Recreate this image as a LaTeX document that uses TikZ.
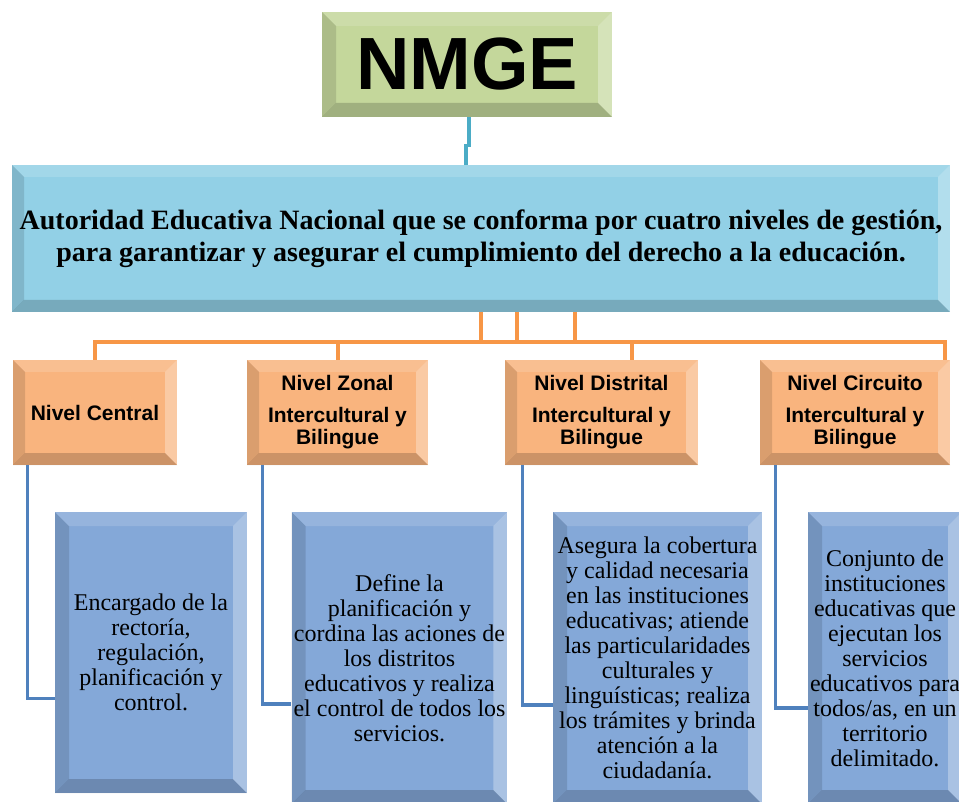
\documentclass[tikz,border=0pt]{standalone}
\usepackage{fontspec}
\setmainfont{Liberation Serif}
\setsansfont{Liberation Sans}
\usetikzlibrary{calc}

\definecolor{nmgegreen}{RGB}{196,215,155}
\definecolor{autoblue}{RGB}{146,208,230}
\definecolor{nivelorange}{RGB}{249,180,126}
\definecolor{descblue}{RGB}{132,168,216}
\definecolor{linkteal}{RGB}{75,172,198}
\definecolor{linkorange}{RGB}{247,150,70}
\definecolor{linkblue}{RGB}{79,129,189}

% bevel faces inside a node
\newcommand\bevelfaces[1]{%
  \coordinate (bsw) at (path picture bounding box.south west);
  \coordinate (bne) at (path picture bounding box.north east);
  \coordinate (bnw) at (path picture bounding box.north west);
  \coordinate (bse) at (path picture bounding box.south east);
  \coordinate (isw) at ([shift={(#1,#1)}]bsw);
  \coordinate (ine) at ([shift={(-#1,-#1)}]bne);
  \coordinate (inw) at ([shift={(#1,-#1)}]bnw);
  \coordinate (ise) at ([shift={(-#1,#1)}]bse);
  \fill[black,opacity=.12] (bnw) -- (inw) -- (isw) -- (bsw) -- cycle;
  \fill[black,opacity=.18] (bsw) -- (isw) -- (ise) -- (bse) -- cycle;
  \fill[white,opacity=.30] (bse) -- (ise) -- (ine) -- (bne) -- cycle;
  \fill[white,opacity=.15] (bne) -- (ine) -- (inw) -- (bnw) -- cycle;
}

\tikzset{
  bevelbox/.style={draw=none, fill=#1, inner sep=1pt, align=center},
  bevel/.style={path picture={\bevelfaces{#1}}},
  nivelbox/.style={bevelbox=nivelorange, bevel=6pt, minimum height=52.5pt,
    font=\sffamily\bfseries\fontsize{10.5}{11}\selectfont},
  descbox/.style={bevelbox=descblue, bevel=7pt,
    font=\fontsize{12}{12.5}\selectfont},
  tealink/.style={draw=linkteal, line width=1.6pt},
  orangelink/.style={draw=linkorange, line width=2pt},
  bluelink/.style={draw=linkblue, line width=1.6pt},
}

\begin{document}
\begin{tikzpicture}[x=0.5pt,y=-0.5pt]
\useasboundingbox (0,0) rectangle (959,802);
\clip (0,0) rectangle (959,802);

\node[bevelbox=nmgegreen, bevel=7pt, minimum width=145pt, minimum height=52.5pt,
  font=\sffamily\bfseries\fontsize{37}{40}\selectfont] (nmge) at (467,64.5) {NMGE};

\node[bevelbox=autoblue, bevel=6pt, minimum width=469pt, minimum height=73.5pt,
  font=\bfseries\fontsize{14}{16}\selectfont] (autoridad) at (481,238.5)
  {Autoridad Educativa Nacional que se conforma por cuatro niveles de gestión,\\
   para garantizar y asegurar el cumplimiento del derecho a la educación.};

% niveles
\node[nivelbox, minimum width=82pt] (central) at (95,412.5) {Nivel Central};
\node[nivelbox, minimum width=90.5pt] (zonal) at (337.5,412.5)
  {Nivel Zonal\\[5pt] Intercultural y\\ Bilingue};
\node[nivelbox, minimum width=96.5pt] (distrital) at (601.5,412.5)
  {Nivel Distrital\\[5pt] Intercultural y\\ Bilingue};
\node[nivelbox, minimum width=95pt] (circuito) at (855,412.5)
  {Nivel Circuito\\[5pt] Intercultural y\\ Bilingue};

% descripciones
\node[descbox, minimum width=96pt, minimum height=140.5pt] (encargado) at (151,652.5)
  {Encargado de la\\ rectoría,\\ regulación,\\ planificación y\\ control.};
\node[descbox, minimum width=106.5pt, minimum height=146pt] (define) at (399.5,658)
  {Define la\\ planificación y\\ cordina las aciones de\\ los distritos\\
   educativos y realiza\\ el control de todos los\\ servicios.};
\node[descbox, minimum width=104.5pt, minimum height=146pt] (asegura) at (657.5,658)
  {Asegura la cobertura\\ y calidad necesaria\\ en las instituciones\\
   educativas; atiende\\ las particularidades\\ culturales y\\
   linguísticas; realiza\\ los trámites y brinda\\ atención a la\\ ciudadanía.};
\node[descbox, minimum width=77pt, minimum height=146pt] (conjunto) at (885,658)
  {Conjunto de\\ instituciones\\ educativas que\\ ejecutan los\\ servicios\\
   educativos para\\ todos/as, en un\\ territorio\\ delimitado.};

% conectores
\draw[tealink] ([xshift=1pt]nmge.south) -- ++(0,-14pt) -- ++(-1.5pt,0) coordinate (tjog)
  -- (tjog |- autoridad.north);

\coordinate (bus) at (0,342);
\coordinate (cdrop) at ([xshift=-2.5pt]circuito.north east);
\coordinate (ddrop) at ([xshift=15.25pt]distrital.north);
\foreach \dx in {0,18,47} {
  \path ([xshift=\dx pt]autoridad.south) coordinate (up);
  \draw[orangelink] (up) -- (up |- bus);
}
\draw[orangelink] (central.north) |- (bus -| cdrop) -- (cdrop);
\draw[orangelink] (zonal.north) -- (zonal.north |- bus);
\draw[orangelink] (ddrop) -- (ddrop |- bus);

\draw[bluelink] ([xshift=7.5pt]central.south west) |- ([yshift=-23pt]encargado.west);
\draw[bluelink] ([xshift=8pt]zonal.south west) |- ([yshift=-23pt]define.west);
\draw[bluelink] ([xshift=9pt]distrital.south west) |- ([yshift=-23.5pt]asegura.west);
\draw[bluelink] ([xshift=8pt]circuito.south west) |- ([yshift=-25pt]conjunto.west);
\end{tikzpicture}
\end{document}
